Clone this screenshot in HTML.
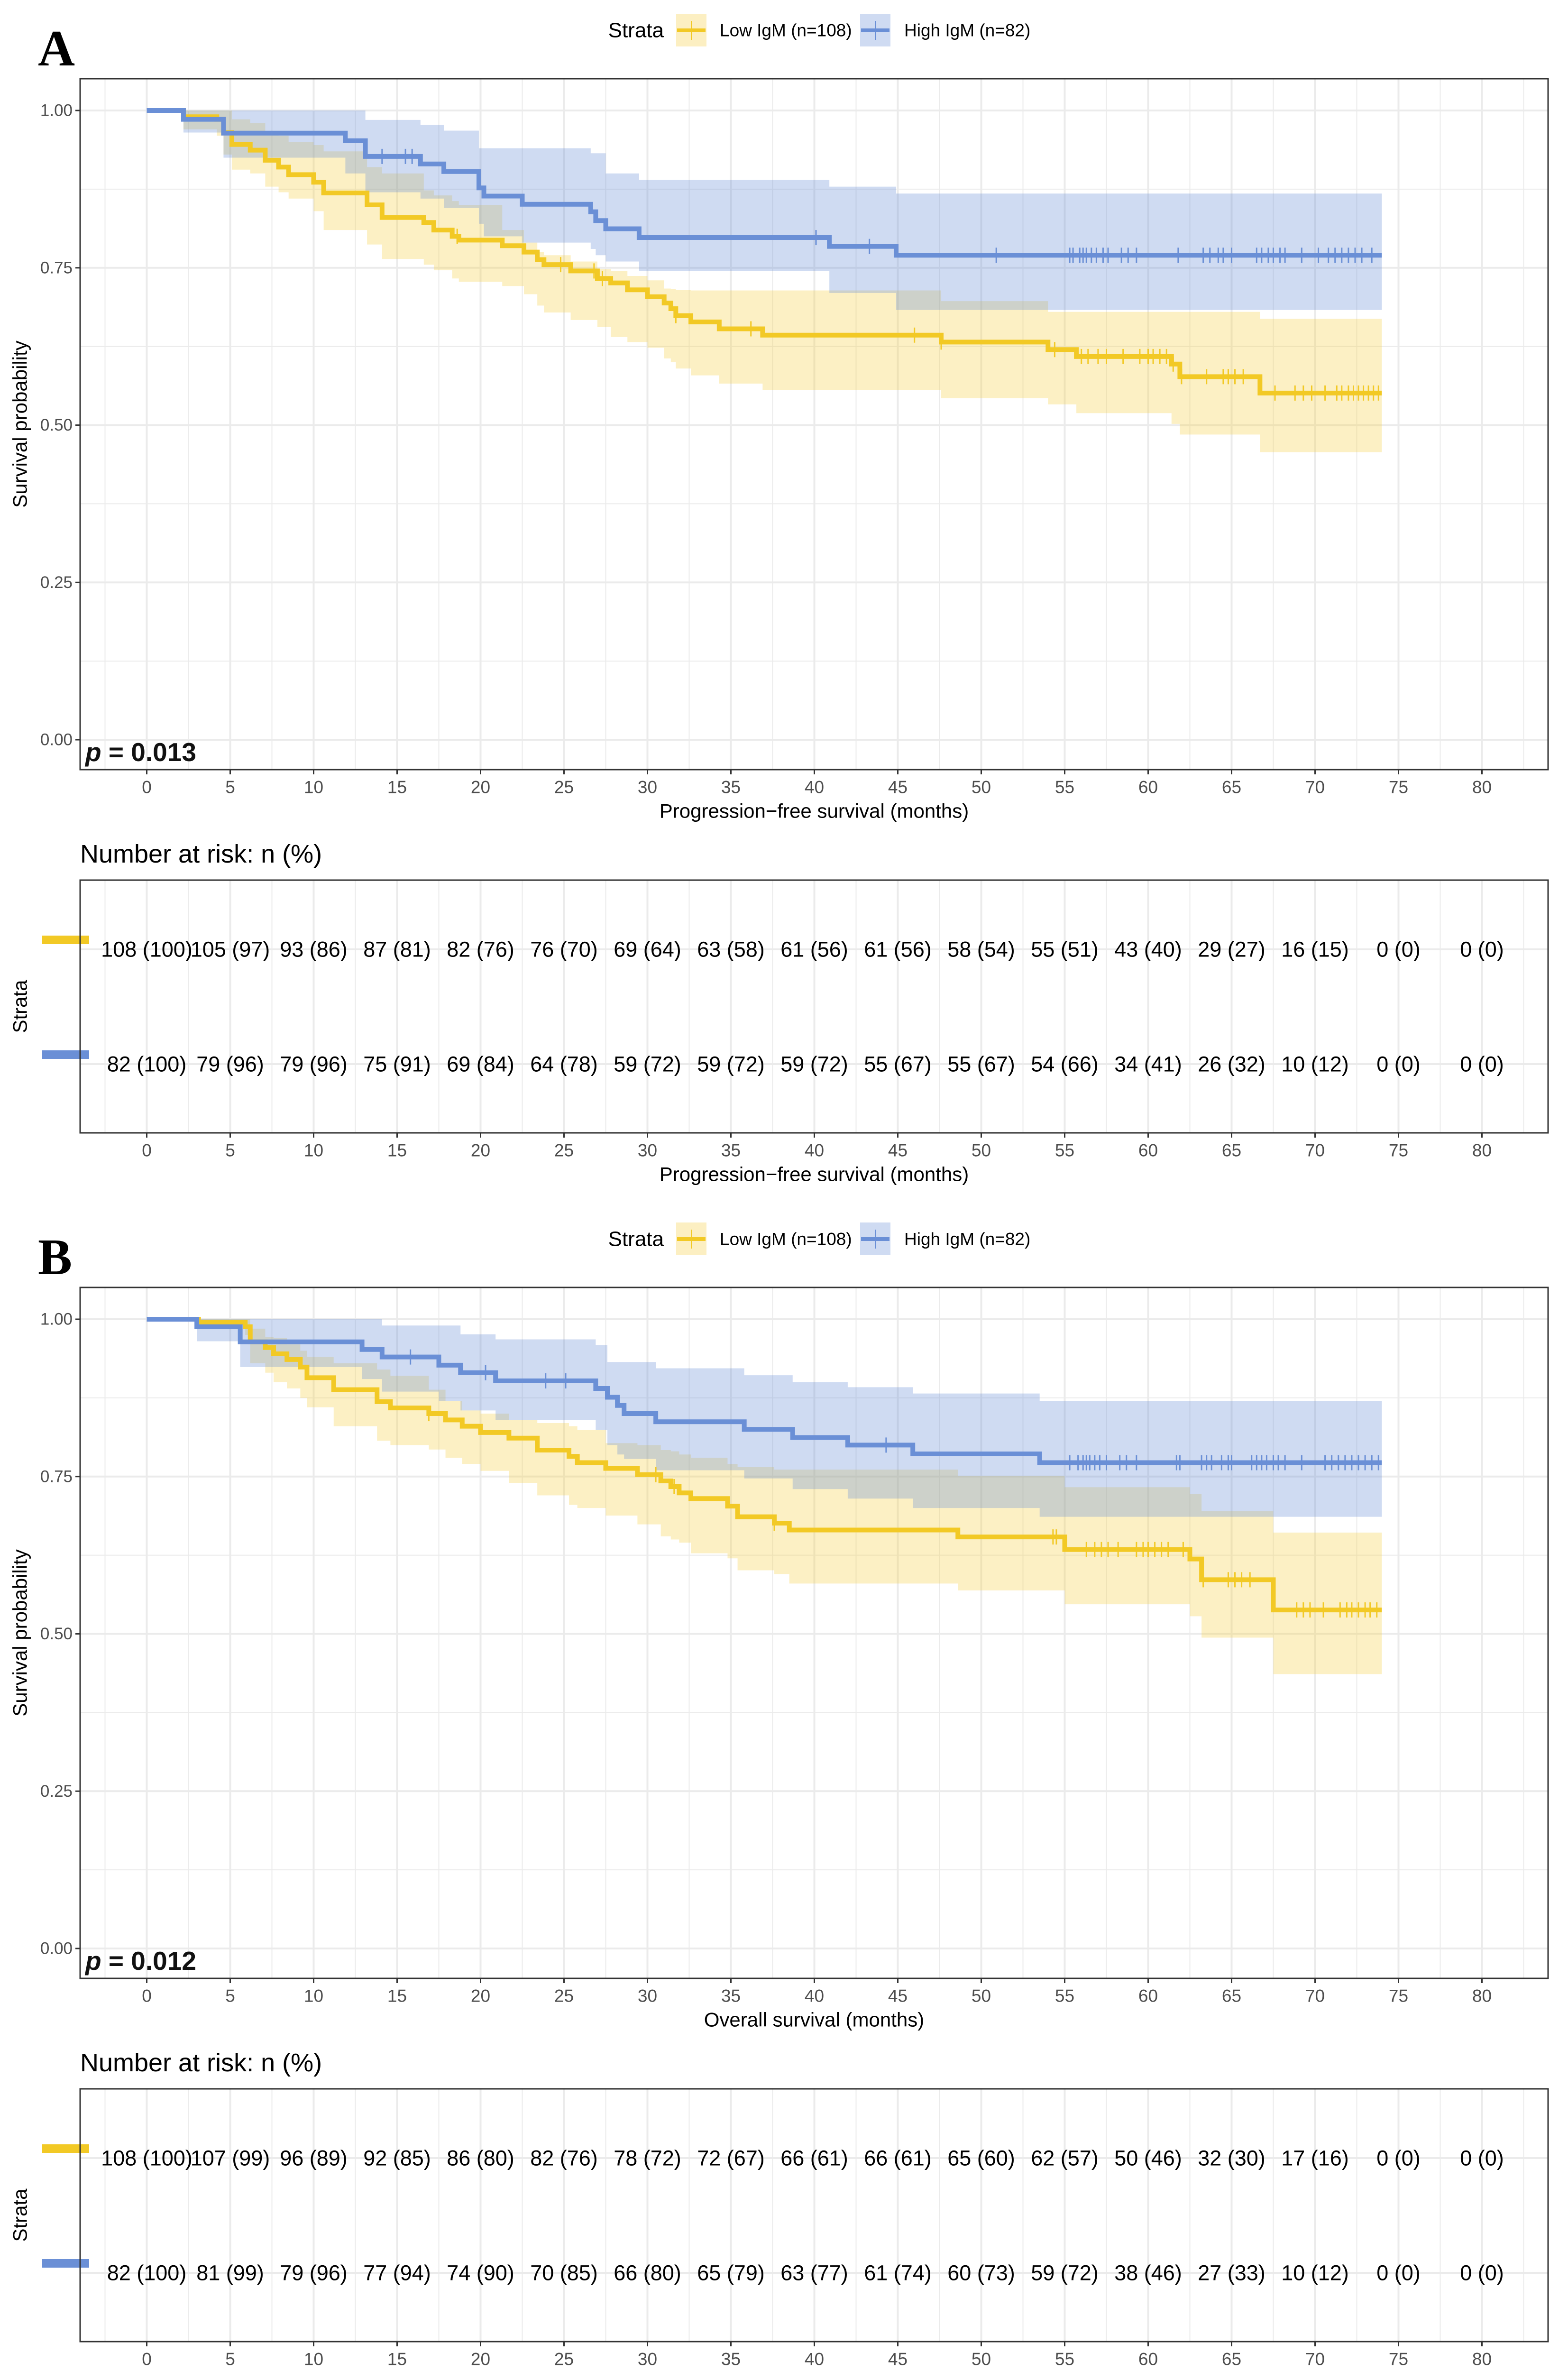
<!DOCTYPE html>
<html><head><meta charset="utf-8"><title>Kaplan-Meier curves by IgM</title>
<style>
html,body{margin:0;padding:0;background:#fff;width:3307px;height:5093px;overflow:hidden;}
svg{display:block;font-family:"Liberation Sans",Arial,sans-serif;}
</style></head>
<body>
<svg id="fig" xmlns="http://www.w3.org/2000/svg" width="3307" height="5093" viewBox="0 0 3307 5093"></svg>
<script>
// ---------- data ----------
const xTicks=[0,5,10,15,20,25,30,35,40,45,50,55,60,65,70,75,80];
const yTicks=[0,0.25,0.5,0.75,1];
const yTickLabels=["0.00","0.25","0.50","0.75","1.00"];
const endTime=74;

// Panel A: PFS, Low IgM
const pfsLowT=[0,2.2,4.2,4.6,5.1,6.2,7.1,7.9,8.5,10.0,10.6,13.2,14.1,16.6,17.2,18.3,18.7,21.3,22.6,23.4,23.8,25.4,27.0,27.8,28.8,30.0,31.0,31.4,31.7,32.6,34.3,36.9,47.6,54.0,55.7,61.4,61.9,66.7];
const pfsLowS=[1,.99,.986,.965,.946,.937,.921,.91,.898,.886,.869,.85,.83,.822,.81,.80,.794,.785,.775,.763,.755,.745,.733,.726,.715,.704,.694,.685,.674,.664,.653,.643,.632,.620,.609,.597,.577,.551];
const pfsLowLo=[1,.97,.96,.93,.906,.90,.879,.87,.86,.84,.81,.787,.764,.755,.746,.733,.728,.721,.708,.69,.679,.667,.656,.64,.632,.623,.606,.60,.59,.579,.566,.556,.543,.533,.519,.502,.485,.457];
const pfsLowUp=[1,1,1,1,.986,.98,.967,.96,.95,.945,.935,.91,.90,.873,.865,.856,.85,.81,.79,.775,.77,.76,.748,.745,.737,.73,.717,.716,.715,.714,.714,.714,.697,.68,.68,.68,.68,.669];
const pfsLowCens=[18.6,24.8,26.8,27.3,31.7,36.2,46.0,47.6,54.4,56.0,56.4,57,57.5,58.5,59.5,60,60.3,60.7,61.1,61.5,62.0,63.5,64.5,64.8,65.2,65.7,67.6,68.8,69.3,69.8,70.6,71.3,71.6,72,72.3,72.6,72.9,73.2,73.5,73.8];
// Panel A: PFS, High IgM
const pfsHighT=[0,2.2,4.6,11.9,13.1,16.4,17.8,19.9,20.2,22.5,26.6,26.9,27.5,29.5,40.9,44.9];
const pfsHighS=[1,.986,.964,.952,.927,.915,.903,.877,.864,.851,.839,.825,.812,.798,.784,.770];
const pfsHighLo=[1,.965,.925,.90,.87,.86,.845,.82,.80,.79,.78,.77,.76,.745,.71,.683];
const pfsHighUp=[1,1,1,1,.985,.977,.968,.94,.94,.94,.932,.932,.90,.89,.879,.868];
const pfsHighCens=[14.1,15.5,15.9,40.1,43.3,50.9,55.3,55.5,55.9,56.1,56.3,56.6,56.9,57.3,57.6,58.4,58.8,59.3,61.8,63.3,63.7,64.2,64.5,65.0,66.5,66.8,67.2,67.5,67.9,68.2,69.2,70.2,70.8,71.2,71.6,72,72.4,72.8,73.4];
// Panel B: OS, Low IgM
const osLowT=[0,3.1,5.9,6.2,7.1,7.6,8.4,9.2,9.6,11.2,13.8,14.6,16.9,17.9,18.9,20.0,21.7,23.4,25.3,25.8,27.5,29.4,30.8,31.4,31.9,32.6,34.8,35.4,37.6,38.5,48.6,55.0,62.5,63.2,67.5];
const osLowS=[1,.995,.988,.964,.955,.945,.936,.924,.907,.888,.869,.859,.85,.84,.83,.82,.811,.792,.782,.772,.763,.753,.743,.734,.724,.715,.703,.686,.676,.665,.654,.634,.619,.586,.538];
const osLowLo=[1,.99,.975,.93,.915,.90,.89,.875,.86,.83,.807,.80,.793,.78,.77,.759,.74,.72,.705,.70,.688,.674,.655,.65,.645,.628,.62,.601,.595,.58,.569,.547,.528,.494,.436];
const osLowUp=[1,1,1,.985,.972,.97,.96,.95,.94,.93,.92,.91,.888,.87,.855,.85,.84,.835,.83,.824,.803,.80,.792,.79,.785,.78,.77,.765,.761,.761,.751,.733,.722,.695,.661];
const osLowCens=[16.9,30.5,31.6,37.6,54.3,54.5,56.3,56.8,57.2,57.6,58.2,59.3,59.7,60,60.4,60.8,61.2,62.1,63.3,64.8,65.2,65.6,66.1,68.9,69.3,69.7,70.5,71.5,71.9,72.2,72.6,73,73.3,73.7];
// Panel B: OS, High IgM
const osHighT=[0,3.0,5.6,12.9,14.1,17.5,18.8,20.9,26.9,27.6,28.2,28.6,30.5,35.8,38.7,42.0,45.9,53.5];
const osHighS=[1,.988,.964,.952,.94,.927,.915,.902,.89,.876,.863,.85,.837,.825,.812,.80,.786,.772];
const osHighLo=[1,.965,.924,.905,.885,.87,.855,.84,.824,.80,.785,.778,.76,.747,.73,.715,.70,.686];
const osHighUp=[1,1,1,1,.99,.99,.976,.968,.959,.932,.932,.932,.922,.911,.90,.892,.882,.87];
const osHighCens=[15.8,20.3,23.9,25.1,44.3,55.3,55.8,56.1,56.3,56.5,56.8,57.1,57.5,58.3,58.7,59.3,61.7,61.9,63.2,63.5,63.8,64.4,64.8,65,66.2,66.5,66.8,67.1,67.5,67.8,68.2,69.2,70.6,71,71.4,71.8,72.2,72.6,73,73.4,73.8];

// Risk tables
const riskTimes=[0,5,10,15,20,25,30,35,40,45,50,55,60,65,70,75,80];
const riskPfsLow=["108 (100)","105 (97)","93 (86)","87 (81)","82 (76)","76 (70)","69 (64)","63 (58)","61 (56)","61 (56)","58 (54)","55 (51)","43 (40)","29 (27)","16 (15)","0 (0)","0 (0)"];
const riskPfsHigh=["82 (100)","79 (96)","79 (96)","75 (91)","69 (84)","64 (78)","59 (72)","59 (72)","59 (72)","55 (67)","55 (67)","54 (66)","34 (41)","26 (32)","10 (12)","0 (0)","0 (0)"];
const riskOsLow=["108 (100)","107 (99)","96 (89)","92 (85)","86 (80)","82 (76)","78 (72)","72 (67)","66 (61)","66 (61)","65 (60)","62 (57)","50 (46)","32 (30)","17 (16)","0 (0)","0 (0)"];
const riskOsHigh=["82 (100)","81 (99)","79 (96)","77 (94)","74 (90)","70 (85)","66 (80)","65 (79)","63 (77)","61 (74)","60 (73)","59 (72)","38 (46)","27 (33)","10 (12)","0 (0)","0 (0)"];

// ---------- drawing ----------
const NS="http://www.w3.org/2000/svg";
const svg=document.getElementById('fig');
const YEL="#F2C925", BLU="#6A8FD6";
function mk(tag,attrs,parent){const e=document.createElementNS(NS,tag);for(const k in attrs)e.setAttribute(k,attrs[k]);(parent||svg).appendChild(e);return e;}
const X0=169,X1=3265;
function xs(t){return 309.5+t*35.2;}
function stepAt(T,S,t){let v=S[0];for(let i=0;i<T.length;i++){if(T[i]<=t)v=S[i];}return v;}

function drawPanel(off,letter,title,pText,low,high,rLow,rHigh){
  const ys=s=>off+233+(1-s)*1327;
  const top=off+166,bot=off+1623;
  const g=mk('g',{});
  
  
  const lt=mk('text',{x:80,y:off+138,'font-family':'"Liberation Serif",serif','font-weight':'bold','font-size':108,fill:'#000'},g);
  lt.textContent=letter;
  
  
  // legend
  const lg=mk('g',{},g);
  
  
  const lgT=mk('text',{x:1400,y:off+64,'font-size':44,'text-anchor':'end','dominant-baseline':'central',fill:'#000'},lg);
  lgT.textContent='Strata';
  
  
  [[1426,YEL,'rgba(245,210,80,0.35)','Low IgM (n=108)',1518],[1814,BLU,'rgba(106,143,214,0.32)','High IgM (n=82)',1907]].forEach(L=>{
    const kg=mk('g',{},lg);
    
    
    mk('rect',{x:L[0],y:off+29,width:64,height:69,fill:L[2]},kg);
    mk('line',{x1:L[0]+2,x2:L[0]+62,y1:off+64,y2:off+64,stroke:L[1],'stroke-width':8},kg);
    mk('line',{x1:L[0]+32,x2:L[0]+32,y1:off+44,y2:off+84,stroke:L[1],'stroke-width':2},kg);
    const tx=mk('text',{x:L[4],y:off+64,'font-size':37,'dominant-baseline':'central',fill:'#000'},kg);
    tx.textContent=L[3];
  });
  // grid
  const grid=mk('g',{},g);
  
  
  for(let t=-2.5;t<=82.5;t+=2.5){const major=(Math.round(t/2.5)%2===0);mk('line',{x1:xs(t),x2:xs(t),y1:top,y2:bot,stroke:'#ebebeb','stroke-width':major?4:2},grid);}
  for(let s=-0.125;s<=1.125;s+=0.125){const yy=ys(s);if(yy<top||yy>bot)continue;const major=(Math.round(s/0.125)%2===0);mk('line',{x1:X0,x2:X1,y1:yy,y2:yy,stroke:'#ebebeb','stroke-width':major?4:2},grid);}
  // bands
  [low,high].forEach((D,k)=>{
    const [T,S,Lo,Up,C]=D;
    let up='',lo=[];
    for(let i=0;i<T.length;i++){const t1=(i+1<T.length)?T[i+1]:endTime;up+=(i?'L':'M')+xs(T[i])+' '+ys(Up[i])+' L'+xs(t1)+' '+ys(Up[i])+' ';lo.push(xs(T[i])+' '+ys(Lo[i]),xs(t1)+' '+ys(Lo[i]));}
    const band=mk('path',{d:up+'L'+lo.reverse().join(' L')+' Z',fill:k?'rgba(106,143,214,0.32)':'rgba(245,205,60,0.30)'},g);
    
    
  });
  // lines
  [low,high].forEach((D,k)=>{
    const [T,S,Lo,Up,C]=D;const col=k?BLU:YEL;
    let d='M'+xs(T[0])+' '+ys(S[0]);
    for(let i=1;i<T.length;i++){d+=' H'+xs(T[i])+' V'+ys(S[i]);}
    d+=' H'+xs(endTime);
    const ln=mk('path',{d:d,fill:'none',stroke:col,'stroke-width':10},g);
    
    
    C.forEach(t=>{const yy=ys(stepAt(T,S,t));const cm=mk('line',{x1:xs(t),x2:xs(t),y1:yy-16,y2:yy+16,stroke:col,'stroke-width':3},g);
      
      });
  });
  // border
  const bd=mk('rect',{x:X0,y:top,width:X1-X0,height:bot-top,fill:'none',stroke:'#333','stroke-width':3},g);
  
  
  // ticks
  yTicks.forEach((s,i)=>{const yy=ys(s);mk('line',{x1:X0-10,x2:X0,y1:yy,y2:yy,stroke:'#333','stroke-width':3},g);
    const tl=mk('text',{x:X0-16,y:yy,'font-size':35,'text-anchor':'end','dominant-baseline':'central',fill:'#4d4d4d'},g);
    tl.textContent=yTickLabels[i];
    
    });
  xTicks.forEach(t=>{mk('line',{x1:xs(t),x2:xs(t),y1:bot,y2:bot+10,stroke:'#333','stroke-width':3},g);
    const tl=mk('text',{x:xs(t),y:bot+37,'font-size':37,'text-anchor':'middle','dominant-baseline':'central',fill:'#4d4d4d'},g);
    tl.textContent=t;
    
    });
  const yt=mk('text',{x:0,y:0,'font-size':42,'text-anchor':'middle','dominant-baseline':'central',fill:'#000',transform:`translate(42 ${(top+bot)/2}) rotate(-90)`},g);
  yt.textContent='Survival probability';
  
  
  const xt=mk('text',{x:(X0+X1)/2,y:off+1710,'font-size':42,'text-anchor':'middle','dominant-baseline':'central',fill:'#000'},g);
  xt.textContent=title;
  
  
  const pv=mk('text',{x:180,y:off+1605,'font-size':55,'font-weight':'bold',fill:'#111'},g);
  pv.innerHTML='<tspan font-style="italic">p</tspan> = '+pText;
  
  
  // risk table
  const rg=mk('g',{},g);
  
  
  const rt=mk('text',{x:169,y:off+1801,'font-size':54,'dominant-baseline':'central',fill:'#000'},rg);
  rt.textContent='Number at risk: n (%)';
  
  
  const rTop=off+1856,rBot=off+2389,row1=off+2002,row2=off+2244;
  for(let t=-2.5;t<=82.5;t+=2.5){const major=(Math.round(t/2.5)%2===0);mk('line',{x1:xs(t),x2:xs(t),y1:rTop,y2:rBot,stroke:'#ebebeb','stroke-width':major?4:2},rg);}
  [row1,row2].forEach(yy=>mk('line',{x1:X0,x2:X1,y1:yy,y2:yy,stroke:'#ebebeb','stroke-width':4},rg));
  [[rLow,row1,YEL],[rHigh,row2,BLU]].forEach(R=>{
    mk('rect',{x:89,y:R[1]-29,width:99,height:18,fill:R[2]},rg);
    riskTimes.forEach((t,i)=>{const c=mk('text',{x:xs(t),y:R[1],'font-size':45,'text-anchor':'middle','dominant-baseline':'central',fill:'#000'},rg);
      c.textContent=R[0][i];
      
      });
  });
  mk('rect',{x:X0,y:rTop,width:X1-X0,height:rBot-rTop,fill:'none',stroke:'#333','stroke-width':3},rg);
  xTicks.forEach(t=>{mk('line',{x1:xs(t),x2:xs(t),y1:rBot,y2:rBot+10,stroke:'#333','stroke-width':3},rg);
    const tl=mk('text',{x:xs(t),y:rBot+37,'font-size':37,'text-anchor':'middle','dominant-baseline':'central',fill:'#4d4d4d'},rg);
    tl.textContent=t;
    
    });
  const st=mk('text',{x:0,y:0,'font-size':42,'text-anchor':'middle','dominant-baseline':'central',fill:'#000',transform:`translate(42 ${(rTop+rBot)/2}) rotate(-90)`},rg);
  st.textContent='Strata';
  
  
  const rx=mk('text',{x:(X0+X1)/2,y:off+2476,'font-size':42,'text-anchor':'middle','dominant-baseline':'central',fill:'#000'},rg);
  rx.textContent=title;
  
  
}
drawPanel(0,'A','Progression\u2212free survival (months)','0.013',
  [pfsLowT,pfsLowS,pfsLowLo,pfsLowUp,pfsLowCens],[pfsHighT,pfsHighS,pfsHighLo,pfsHighUp,pfsHighCens],riskPfsLow,riskPfsHigh);
drawPanel(2549,'B','Overall survival (months)','0.012',
  [osLowT,osLowS,osLowLo,osLowUp,osLowCens],[osHighT,osHighS,osHighLo,osHighUp,osHighCens],riskOsLow,riskOsHigh);
</script>
</body></html>
